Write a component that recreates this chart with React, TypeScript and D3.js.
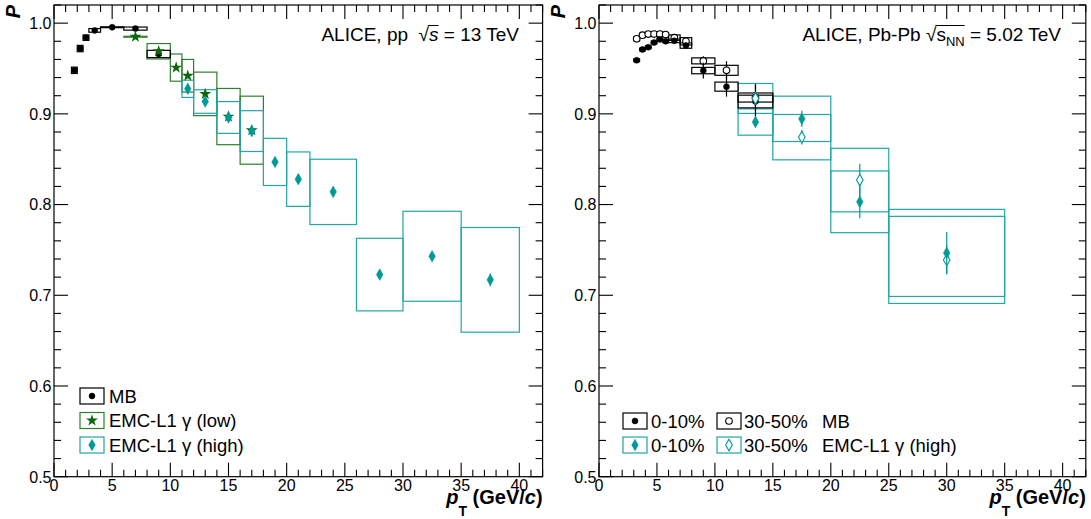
import React, { useEffect, useRef } from 'react';
import * as d3 from 'd3';

const W = 1091;
const H = 519;
const FONT = '"Liberation Sans", Arial, Helvetica, sans-serif';

// ---------- pp 13 TeV ----------
const ppMB_x = [1.75, 2.25, 2.75, 3.5, 5, 7, 9];
const ppMB_lo = [1.5, 2, 2.5, 3, 4, 6, 8];
const ppMB_hi = [2, 2.5, 3, 4, 6, 8, 10];
const ppMB_y = [0.948, 0.972, 0.984, 0.992, 0.9955, 0.994, 0.966];
const ppMB_sys = [0.0035, 0.0035, 0.003, 0.002, 0.0005, 0.0017, 0.004];
const ppMB_stat = [0.001, 0.001, 0.001, 0.001, 0.001, 0.001, 0.002];

const ppLow_x = [7, 9, 10.5, 11.5, 13, 15, 17];
const ppLow_lo = [6, 8, 10, 11, 12, 14, 16];
const ppLow_hi = [8, 10, 11, 12, 14, 16, 18];
const ppLow_y = [0.985, 0.969, 0.951, 0.942, 0.922, 0.897, 0.882];
const ppLow_sys = [0.0005, 0.0085, 0.015, 0.018, 0.024, 0.031, 0.0375];
const ppLow_stat = [0.001, 0.002, 0.002, 0.002, 0.003, 0.003, 0.004];

const ppHigh_x = [11.5, 13, 15, 17, 19, 21, 24, 28, 32.5, 37.5];
const ppHigh_lo = [11, 12, 14, 16, 18, 20, 22, 26, 30, 35];
const ppHigh_hi = [12, 14, 16, 18, 20, 22, 26, 30, 35, 40];
const ppHigh_y = [0.9276, 0.9136, 0.896, 0.881, 0.847, 0.828, 0.814, 0.7228, 0.743, 0.717];
const ppHigh_sys = [0.0095, 0.013, 0.0175, 0.0225, 0.026, 0.03, 0.036, 0.04, 0.0496, 0.0577];
const ppHigh_stat = [0.002, 0.002, 0.002, 0.003, 0.003, 0.003, 0.003, 0.004, 0.004, 0.007];

// ---------- Pb-Pb 5.02 TeV ----------
const pbMB_x = [3.25, 3.75, 4.25, 4.75, 5.25, 5.75, 6.5, 7.5, 9, 11, 13.5];
const pbMB_lo = [3, 3.5, 4, 4.5, 5, 5.5, 6, 7, 8, 10, 12];
const pbMB_hi = [3.5, 4, 4.5, 5, 5.5, 6, 7, 8, 10, 12, 15];
const pbMB010_y = [0.959, 0.971, 0.9735, 0.9786, 0.982, 0.98, 0.9805, 0.9753, 0.9477, 0.93, 0.9136];
const pbMB010_sys = [0.0015, 0.0015, 0.0015, 0.0015, 0.0015, 0.0015, 0.002, 0.003, 0.0035, 0.005, 0.007];
const pbMB010_stat = [0.001, 0.001, 0.001, 0.001, 0.001, 0.0015, 0.002, 0.003, 0.0087, 0.011, 0.018];
const pbMB3050_y = [0.9827, 0.9867, 0.988, 0.988, 0.9879, 0.9875, 0.984, 0.98, 0.9584, 0.948, 0.918];
const pbMB3050_sys = [0.002, 0.002, 0.002, 0.002, 0.002, 0.002, 0.003, 0.004, 0.0033, 0.0055, 0.005];
const pbMB3050_stat = [0.001, 0.001, 0.001, 0.001, 0.001, 0.001, 0.002, 0.003, 0.005, 0.01, 0.015];

const pbHigh_x = [13.5, 17.5, 22.5, 30];
const pbHigh_lo = [12, 15, 20, 25];
const pbHigh_hi = [15, 20, 25, 35];
const pbHigh010_y = [0.891, 0.8945, 0.803, 0.7467];
const pbHigh010_sys = [0.0145, 0.025, 0.034, 0.048];
const pbHigh010_stat = [0.006, 0.009, 0.018, 0.023];
const pbHigh3050_y = [0.917, 0.8743, 0.827, 0.739];
const pbHigh3050_sys = [0.0165, 0.025, 0.035, 0.048];
const pbHigh3050_stat = [0.007, 0.008, 0.018, 0.016];

const xTickLabels = ['0', '5', '10', '15', '20', '25', '30', '35', '40'];
const yTickLabels = ['0.5', '0.6', '0.7', '0.8', '0.9', '1.0'];

const BLACK = '#000000';
const GREEN = '#0d650d';
const GREEN_BOX = '#2e7f2e';
const TEAL = '#00999a';
const TEAL_BOX = '#22a6a6';

type Marker = 'circle' | 'ocircle' | 'star' | 'diamond' | 'odiamond';

function drawMarker(g: any, cx: number, cy: number, m: Marker, color: string) {
  if (m === 'circle' || m === 'ocircle') {
    g.append('circle').attr('cx', cx).attr('cy', cy).attr('r', m === 'circle' ? 3 : 3.3)
      .attr('fill', m === 'circle' ? color : '#fff')
      .attr('stroke', color).attr('stroke-width', m === 'circle' ? 0.5 : 1.1);
  } else if (m === 'star') {
    g.append('path').attr('d', d3.symbol().type(d3.symbolStar).size(44)())
      .attr('transform', `translate(${cx},${cy})`).attr('fill', color);
  } else {
    const w = 3.3, h = 5.8;
    g.append('path').attr('d', `M${cx},${cy - h}L${cx + w},${cy}L${cx},${cy + h}L${cx - w},${cy}Z`)
      .attr('fill', m === 'diamond' ? color : '#fff')
      .attr('stroke', color).attr('stroke-width', m === 'diamond' ? 0.5 : 1.1);
  }
}

interface Series {
  x: number[]; lo: number[]; hi: number[]; y: number[]; sys: number[]; stat: number[];
  color: string; box: string; marker: Marker;
}

function drawBoxes(g: any, xs: any, ys: any, s: Series) {
  s.x.forEach((_, i) => {
    const top = ys(s.y[i] + s.sys[i]);
    const bot = ys(s.y[i] - s.sys[i]);
    g.append('rect').attr('x', xs(s.lo[i])).attr('width', xs(s.hi[i]) - xs(s.lo[i]))
      .attr('y', top).attr('height', Math.max(0.5, bot - top))
      .attr('fill', 'none').attr('stroke', s.box).attr('stroke-width', 1.2);
  });
}

function drawPoints(g: any, xs: any, ys: any, s: Series) {
  s.x.forEach((xv, i) => {
    g.append('line').attr('x1', xs(xv)).attr('x2', xs(xv))
      .attr('y1', ys(s.y[i] - s.stat[i])).attr('y2', ys(s.y[i] + s.stat[i]))
      .attr('stroke', s.color).attr('stroke-width', 1.2);
  });
  s.x.forEach((xv, i) => drawMarker(g, xs(xv), ys(s.y[i]), s.marker, s.color));
}

interface Part { t: string; size: number; bold?: boolean; italic?: boolean; dy?: number; ol?: boolean; root?: boolean }

function richText(g: any, parts: Part[], xEnd: number, y: number) {
  const nodes: any[] = [];
  const widths: number[] = [];
  parts.forEach((p) => {
    const t = g.append('text').attr('font-family', FONT).attr('font-size', p.size)
      .attr('font-weight', p.bold ? 'bold' : 'normal')
      .attr('font-style', p.italic ? 'italic' : 'normal')
      .attr('xml:space', 'preserve').style('white-space', 'pre')
      .attr('fill', '#000').text(p.t);
    nodes.push(t);
    widths.push((t.node() as SVGTextElement).getComputedTextLength());
  });
  const total = widths.reduce((a, b) => a + b, 0);
  let x = xEnd - total;
  let olStart = -1, olEnd = -1, olTop = y - 14;
  parts.forEach((p, i) => {
    nodes[i].attr('x', x).attr('y', y + (p.dy || 0));
    if (p.root) {
      const bb = (nodes[i].node() as SVGTextElement).getBBox();
      olTop = bb.y + 1.5;
      olStart = x + widths[i] - 1;
    }
    if (p.ol) olEnd = x + widths[i];
    x += widths[i];
  });
  if (olStart >= 0 && olEnd > olStart) {
    g.append('line').attr('x1', olStart).attr('x2', olEnd).attr('y1', olTop).attr('y2', olTop)
      .attr('stroke', '#000').attr('stroke-width', 1);
  }
}

function drawFrame(g: any, xs: any, ys: any) {
  const [x0, x1] = xs.range();
  const [y1, y0] = ys.range();
  const ax = g.append('g').attr('stroke', '#000').attr('stroke-width', 1.1);
  for (let v = 0; v <= 42; v++) {
    const len = v % 5 === 0 ? 14 : 7;
    const px = xs(v);
    ax.append('line').attr('x1', px).attr('x2', px).attr('y1', y1).attr('y2', y1 - len);
    ax.append('line').attr('x1', px).attr('x2', px).attr('y1', y0).attr('y2', y0 + len);
  }
  for (let i = 0; i <= 26; i++) {
    const v = 0.5 + i * 0.02;
    const len = i % 5 === 0 ? 14 : 7;
    const py = ys(v);
    ax.append('line').attr('x1', x0).attr('x2', x0 + len).attr('y1', py).attr('y2', py);
    ax.append('line').attr('x1', x1).attr('x2', x1 - len).attr('y1', py).attr('y2', py);
  }
  g.append('rect').attr('x', x0).attr('y', y0).attr('width', x1 - x0).attr('height', y1 - y0)
    .attr('fill', 'none').attr('stroke', '#000').attr('stroke-width', 1.2);
  xTickLabels.forEach((l) => {
    g.append('text').attr('x', xs(+l)).attr('y', 491).attr('text-anchor', 'middle')
      .attr('font-family', FONT).attr('font-size', 16).text(l);
  });
  yTickLabels.forEach((l) => {
    g.append('text').attr('x', x0 - 2.5).attr('y', ys(+l) + 5.8).attr('text-anchor', 'end')
      .attr('font-family', FONT).attr('font-size', 16).text(l);
  });
  // axis titles
  g.append('text').attr('transform', `translate(${x0 - 34},5) rotate(-90)`).attr('text-anchor', 'end')
    .attr('font-family', FONT).attr('font-size', 20).attr('font-weight', 'bold').attr('font-style', 'italic').text('P');
  richText(g, [
    { t: 'p', size: 20, bold: true, italic: true },
    { t: 'T', size: 14, bold: true, dy: 12 },
    { t: ' (GeV/', size: 20, bold: true },
    { t: 'c', size: 20, bold: true, italic: true },
    { t: ')', size: 20, bold: true },
  ], x1, 504);
}

function legendEntry(g: any, bx: number, cy: number, color: string, box: string, m: Marker) {
  g.append('rect').attr('x', bx).attr('y', cy - 8).attr('width', 24).attr('height', 16)
    .attr('fill', 'none').attr('stroke', box).attr('stroke-width', 1.2);
  drawMarker(g, bx + 12, cy, m, color);
}

function legendText(g: any, x: number, cy: number, parts: { t: string }[]) {
  const t = g.append('text').attr('x', x).attr('y', cy + 6.5).attr('font-family', FONT).attr('font-size', 18.5)
    .attr('xml:space', 'preserve').style('white-space', 'pre');
  parts.forEach((p) => t.append('tspan').text(p.t));
}

export default function App() {
  const ref = useRef<SVGSVGElement>(null);
  useEffect(() => {
    const svg = d3.select(ref.current);
    svg.selectAll('*').remove();
    svg.append('rect').attr('width', W).attr('height', H).attr('fill', '#fff');

    const ys = d3.scaleLinear().domain([0.5, 1.02]).range([476.7, 5]);

    // ----- left panel -----
    const xsL = d3.scaleLinear().domain([0, 42]).range([54, 542.6]);
    const gL = svg.append('g');
    const sMB: Series = { x: ppMB_x, lo: ppMB_lo, hi: ppMB_hi, y: ppMB_y, sys: ppMB_sys, stat: ppMB_stat, color: BLACK, box: BLACK, marker: 'circle' };
    const sLow: Series = { x: ppLow_x, lo: ppLow_lo, hi: ppLow_hi, y: ppLow_y, sys: ppLow_sys, stat: ppLow_stat, color: GREEN, box: GREEN_BOX, marker: 'star' };
    const sHigh: Series = { x: ppHigh_x, lo: ppHigh_lo, hi: ppHigh_hi, y: ppHigh_y, sys: ppHigh_sys, stat: ppHigh_stat, color: TEAL, box: TEAL_BOX, marker: 'diamond' };
    drawBoxes(gL, xsL, ys, sLow);
    drawBoxes(gL, xsL, ys, sHigh);
    drawBoxes(gL, xsL, ys, sMB);
    drawPoints(gL, xsL, ys, sMB);
    drawPoints(gL, xsL, ys, sLow);
    drawPoints(gL, xsL, ys, sHigh);
    drawFrame(gL, xsL, ys);
    richText(gL, [
      { t: 'ALICE, pp  ', size: 19 },
      { t: '√', size: 19, root: true },
      { t: 's', size: 19, italic: true, ol: true },
      { t: ' = 13 TeV', size: 19 },
    ], 519, 41);
    legendEntry(gL, 80, 396, BLACK, BLACK, 'circle');
    legendEntry(gL, 80, 420.5, GREEN, GREEN_BOX, 'star');
    legendEntry(gL, 80, 445, TEAL, TEAL_BOX, 'diamond');
    legendText(gL, 109, 396, [{ t: 'MB' }]);
    legendText(gL, 109, 420.5, [{ t: 'EMC-L1 γ (low)' }]);
    legendText(gL, 109, 445, [{ t: 'EMC-L1 γ (high)' }]);

    // ----- right panel -----
    const xsR = d3.scaleLinear().domain([0, 42]).range([599, 1085.8]);
    const gR = svg.append('g');
    const a: Series = { x: pbMB_x, lo: pbMB_lo, hi: pbMB_hi, y: pbMB010_y, sys: pbMB010_sys, stat: pbMB010_stat, color: BLACK, box: BLACK, marker: 'circle' };
    const b: Series = { x: pbMB_x, lo: pbMB_lo, hi: pbMB_hi, y: pbMB3050_y, sys: pbMB3050_sys, stat: pbMB3050_stat, color: BLACK, box: BLACK, marker: 'ocircle' };
    const c: Series = { x: pbHigh_x, lo: pbHigh_lo, hi: pbHigh_hi, y: pbHigh010_y, sys: pbHigh010_sys, stat: pbHigh010_stat, color: TEAL, box: TEAL_BOX, marker: 'diamond' };
    const dd: Series = { x: pbHigh_x, lo: pbHigh_lo, hi: pbHigh_hi, y: pbHigh3050_y, sys: pbHigh3050_sys, stat: pbHigh3050_stat, color: TEAL, box: TEAL_BOX, marker: 'odiamond' };
    drawBoxes(gR, xsR, ys, c);
    drawBoxes(gR, xsR, ys, dd);
    drawBoxes(gR, xsR, ys, b);
    drawBoxes(gR, xsR, ys, a);
    drawPoints(gR, xsR, ys, b);
    drawPoints(gR, xsR, ys, a);
    drawPoints(gR, xsR, ys, dd);
    drawPoints(gR, xsR, ys, c);
    drawFrame(gR, xsR, ys);
    richText(gR, [
      { t: 'ALICE, Pb-Pb ', size: 19 },
      { t: '√', size: 19, root: true },
      { t: 's', size: 19 },
      { t: 'NN', size: 13, dy: 5, ol: true },
      { t: ' = 5.02 TeV', size: 19 },
    ], 1061, 41);
    legendEntry(gR, 623, 421, BLACK, BLACK, 'circle');
    legendEntry(gR, 717, 421, BLACK, BLACK, 'ocircle');
    legendEntry(gR, 623, 445, TEAL, TEAL_BOX, 'diamond');
    legendEntry(gR, 717, 445, TEAL, TEAL_BOX, 'odiamond');
    legendText(gR, 651, 421, [{ t: '0-10%' }]);
    legendText(gR, 744, 421, [{ t: '30-50%' }]);
    legendText(gR, 822, 421, [{ t: 'MB' }]);
    legendText(gR, 651, 445, [{ t: '0-10%' }]);
    legendText(gR, 744, 445, [{ t: '30-50%' }]);
    legendText(gR, 822, 445, [{ t: 'EMC-L1 γ (high)' }]);
  }, []);
  return (
    <svg ref={ref} width={W} height={H} style={{ position: 'absolute', left: 0, top: 0, display: 'block' }} />
  );
}
